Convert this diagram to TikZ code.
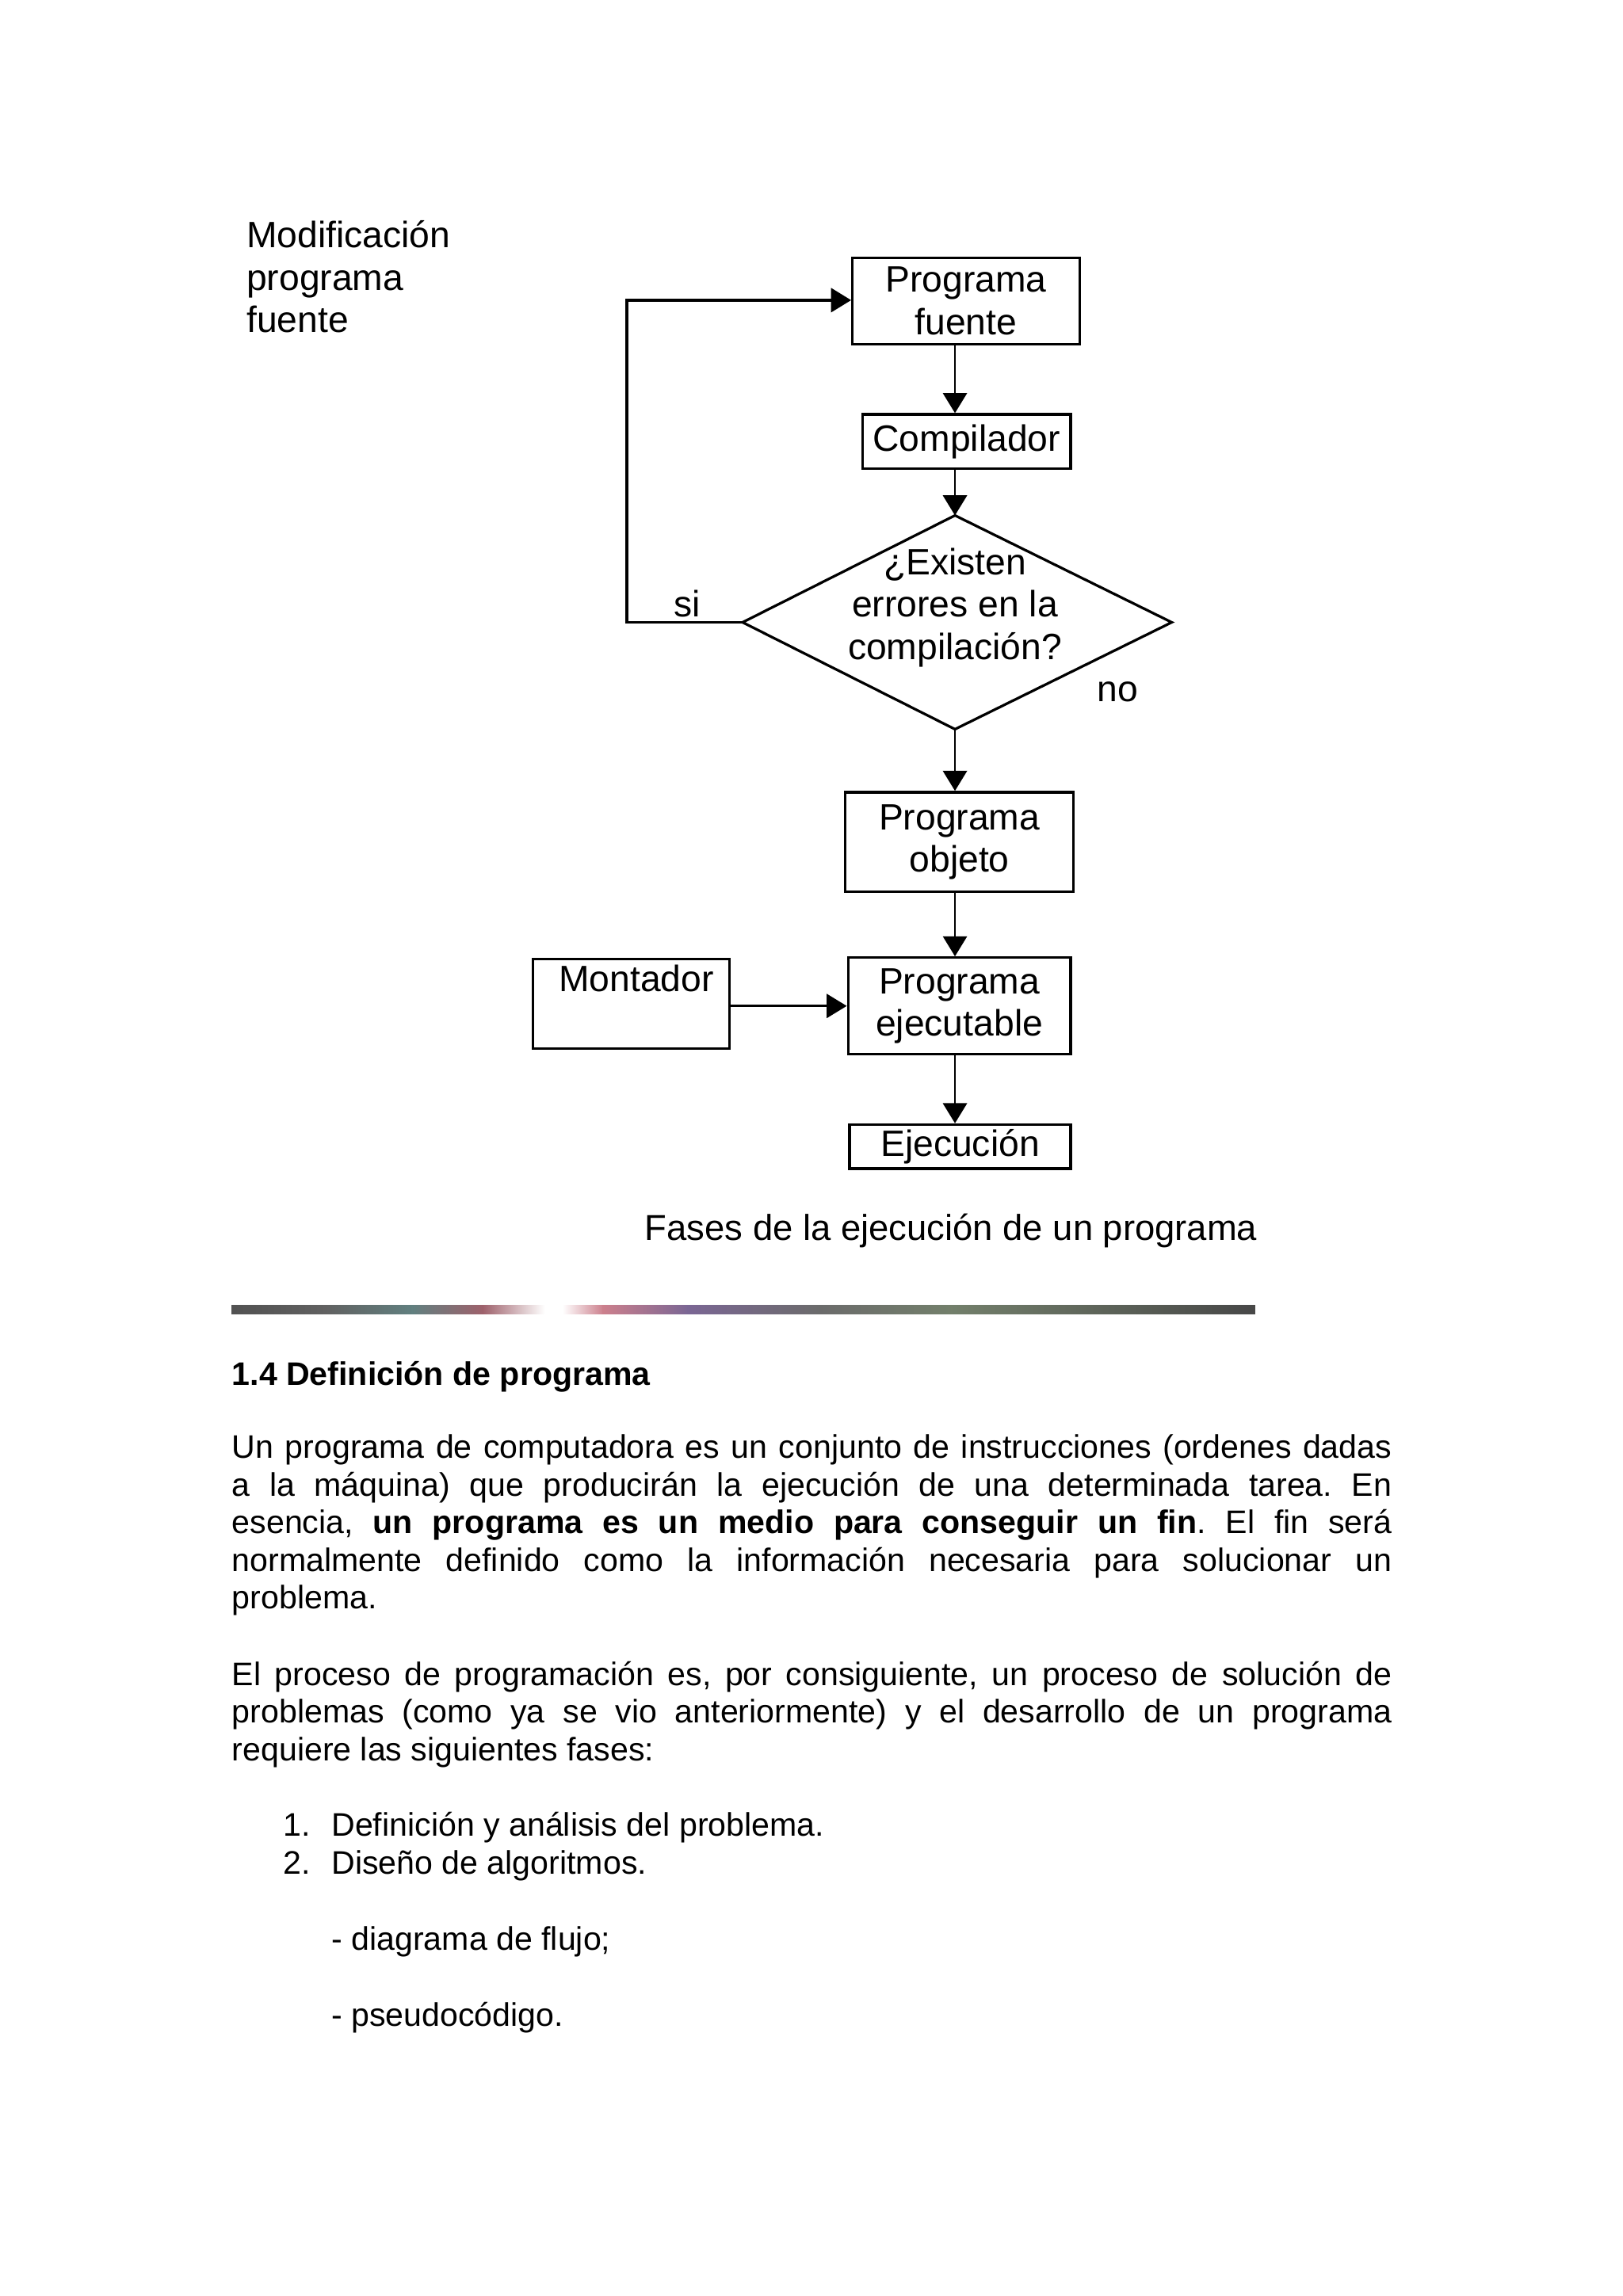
\documentclass[tikz,border=0pt]{standalone}
\usepackage{fontspec}
\setmainfont{Liberation Sans}
\usetikzlibrary{arrows.meta,calc}
\def\u{0.18953mm}
\frenchspacing
\newcommand\dfont{\fontsize{13.5}{15.6}\selectfont}
\newcommand\cfont{\fontsize{13.25}{15.6}\selectfont}
\newcommand\bfont{\fontsize{12}{13.84}\selectfont}
\begin{document}
\begin{tikzpicture}[x=0.18953mm,y=-0.18953mm,
  box/.style={draw, line width=0.95pt, inner sep=0pt, align=center, font=\dfont},
  arr/.style={line width=0.8pt, -{Triangle[length=2.6mm,width=3.1mm]}},
  loopline/.style={line width=0.95pt, -{Triangle[length=2.6mm,width=3.1mm]}},
  lbl/.style={font=\dfont, inner sep=0pt},
  body/.style={font=\bfont, inner sep=0pt}
]
\useasboundingbox (0,0) rectangle (1108,1568);
\fill[white] (0,0) rectangle (1108,1568);

% ---------- diagram ----------
\node[lbl, anchor=base west, align=left] (mod) at (168,227) {Modificación\\programa\\fuente};

\node[box, minimum width=155*\u, minimum height=59*\u] (pf) at (659.5,205.5) {Programa\\fuente};
\node[box, minimum width=142*\u, minimum height=37*\u] (comp) at (660,301.5) {Compilador};

\coordinate (dT) at (652,352);
\coordinate (dB) at (652,498);
\coordinate (dL) at (507,425);
\coordinate (dR) at (800,425);
\draw[line width=0.95pt] (dL) -- (dT) -- (dR) -- (dB) -- cycle;
\node[lbl, align=center] (q) at (652,415) {¿Existen\\errores en la\\compilación?};
\node[lbl, anchor=base] (si) at (469,421) {si};
\node[lbl, anchor=base] (no) at (763,479) {no};

\node[box, minimum width=156*\u, minimum height=68*\u] (obj) at (655,575) {Programa\\objeto};
\node[box, minimum width=134*\u, minimum height=61*\u] (mont) at (431,685.5) {};
\node[lbl, anchor=base] (montt) at (434.5,677) {Montador};
\node[box, minimum width=152*\u, minimum height=66*\u] (ejec) at (655,687) {Programa\\ejecutable};
\node[box, minimum width=151*\u, minimum height=30*\u] (fin) at (655.5,783) {Ejecución};

\node[font=\cfont, inner sep=0pt, anchor=base west] (cap) at (440,847) {Fases de la ejecución de un programa};

\coordinate (c1) at (428,425);
\coordinate (c2) at (428,205);
\draw[loopline] (dL) -- (c1) -- (c2) -- (pf.west |- c2);

\draw[arr] (pf.south -| dT) -- (comp.north -| dT);
\draw[arr] (comp.south -| dT) -- (dT);
\draw[arr] (dB) -- (obj.north -| dT);
\draw[arr] (obj.south -| dT) -- (ejec.north -| dT);
\draw[arr] (ejec.south -| dT) -- (fin.north -| dT);
\draw[arr] (mont.east |- 0,687) -- (ejec.west |- 0,687);

% ---------- separator bar ----------
\shade[left color=black!68, right color=black!62] (158,891.5) rectangle (222,897.5);
\shade[left color=black!62, right color={rgb,1:red,0.38;green,0.5;blue,0.5}] (221.5,891.5) rectangle (282,897.5);
\shade[left color={rgb,1:red,0.38;green,0.5;blue,0.5}, right color={rgb,1:red,0.62;green,0.38;blue,0.42}] (281.5,891.5) rectangle (330,897.5);
\shade[left color={rgb,1:red,0.62;green,0.38;blue,0.42}, right color=white] (329.5,891.5) rectangle (372,897.5);
\shade[left color=white, right color={rgb,1:red,0.8;green,0.5;blue,0.55}] (384,891.5) rectangle (412,897.5);
\shade[left color={rgb,1:red,0.8;green,0.5;blue,0.55}, right color={rgb,1:red,0.48;green,0.4;blue,0.58}] (411.5,891.5) rectangle (470,897.5);
\shade[left color={rgb,1:red,0.48;green,0.4;blue,0.58}, right color=black!58] (469.5,891.5) rectangle (560,897.5);
\shade[left color=black!58, right color={rgb,1:red,0.45;green,0.5;blue,0.42}] (559.5,891.5) rectangle (650,897.5);
\shade[left color={rgb,1:red,0.45;green,0.5;blue,0.42}, right color=black!72] (649.5,891.5) rectangle (857,897.5);

% ---------- body text ----------
\node[body, anchor=base west] (head) at (158,946) {\bfseries 1.4 Definición de programa};

\node[body, anchor=base west, text width=150.1mm, align=justify] (p1) at (158,996)
{\hyphenpenalty=10000\emergencystretch=3em
Un programa de computadora es un conjunto de instrucciones (ordenes dadas\linebreak
a la máquina) que producirán la ejecución de una determinada tarea. En\linebreak
esencia, \textbf{un programa es un medio para conseguir un fin}. El fin será\linebreak
normalmente definido como la información necesaria para solucionar un\linebreak
problema.};

\node[body, anchor=base west, text width=150.1mm, align=justify] (p2) at (158,1151)
{\hyphenpenalty=10000\emergencystretch=3em
El proceso de programación es, por consiguiente, un proceso de solución de\linebreak
problemas (como ya se vio anteriormente) y el desarrollo de un programa\linebreak
requiere las siguientes fases:};

\node[body, anchor=base west] (n1) at (193,1254) {1.};
\node[body, anchor=base west] (t1) at (226,1254) {Definición y análisis del problema.};
\node[body, anchor=base west] (n2) at (193,1280) {2.};
\node[body, anchor=base west] (t2) at (226,1280) {Diseño de algoritmos.};
\node[body, anchor=base west] (b1) at (226,1332) {- diagrama de flujo;};
\node[body, anchor=base west] (b2) at (226,1384) {- pseudocódigo.};
\end{tikzpicture}
\end{document}
